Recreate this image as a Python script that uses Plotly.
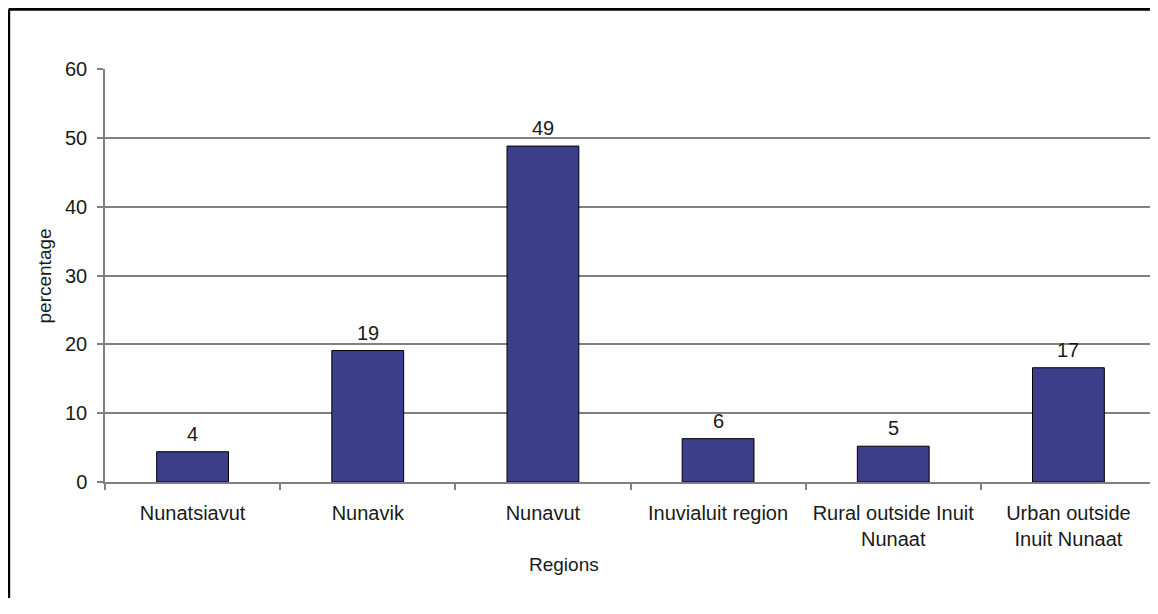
import plotly.graph_objects as go

regions = ["Nunatsiavut", "Nunavik", "Nunavut", "Inuvialuit region",
           "Rural outside Inuit<br>Nunaat", "Urban outside<br>Inuit Nunaat"]
percentages = [4.4, 19.1, 48.8, 6.3, 5.2, 16.6]
labels = ["4", "19", "49", "6", "5", "17"]
y_ticks = [0, 10, 20, 30, 40, 50, 60]

FONT = "Liberation Sans, Arial, sans-serif"
TXT = "#1a1a1a"

# page body adds an 8px margin, so the figure is sized to fit the window
W, H = 1148, 590
L, T, R = 97, 61, 0
PH = 413.5
B = H - T - PH

fig = go.Figure()
fig.add_trace(go.Bar(
    x=regions, y=percentages,
    marker=dict(color="#3c3e8a", line=dict(color="#000000", width=1)),
    width=0.41,
    hoverinfo="x+y",
))

for r, v, t in zip(regions, percentages, labels):
    fig.add_annotation(x=r, y=v, text=t, showarrow=False, yanchor="bottom",
                       yshift=5, font=dict(family=FONT, size=20, color=TXT))

fig.add_annotation(xref="paper", yref="paper", x=0.4367, y=-0.2, yanchor="middle",
                   text="Regions", showarrow=False,
                   font=dict(family=FONT, size=19, color=TXT))
fig.add_annotation(xref="paper", yref="paper", x=-0.0571, y=0.5, xanchor="center",
                   text="percentage", textangle=-90, showarrow=False,
                   font=dict(family=FONT, size=19, color=TXT))

# outer frame (only its left and top edges fall inside the picture)
pw = W - L - R
fx = (0.7 - L) / pw
fy = 1 + (T - 1.2) / PH
frame = dict(color="#000000", width=3)
fig.add_shape(type="line", xref="paper", yref="paper",
              x0=fx, y0=fy, x1=1 + (R + 20) / pw, y1=fy, line=frame, layer="above")
fig.add_shape(type="line", xref="paper", yref="paper",
              x0=fx, y0=fy, x1=fx, y1=-(B + 20) / PH, line=frame, layer="above")

fig.update_layout(
    width=W, height=H,
    margin=dict(l=L, r=R, t=T, b=B, pad=0),
    paper_bgcolor="white", plot_bgcolor="white",
    showlegend=False,
    font=dict(family=FONT, size=20, color=TXT),
)
fig.update_xaxes(
    type="category", showline=True, linecolor="#808080", linewidth=1.5,
    ticks="outside", tickson="boundaries", ticklen=6, tickcolor="#808080",
    tickwidth=1.5, showgrid=False, tickfont=dict(family=FONT, size=20, color=TXT),
    tickangle=0, ticklabelstandoff=12,
)
fig.update_yaxes(
    range=[0, 60], tickvals=y_ticks, showline=True, linecolor="#808080",
    linewidth=1.5, ticks="outside", ticklen=6, tickcolor="#808080", tickwidth=1.5,
    showgrid=True, gridcolor="#808080", gridwidth=1.5, zeroline=False,
    tickfont=dict(family=FONT, size=20, color=TXT), ticklabelstandoff=6,
)

fig.write_html("out.html")
